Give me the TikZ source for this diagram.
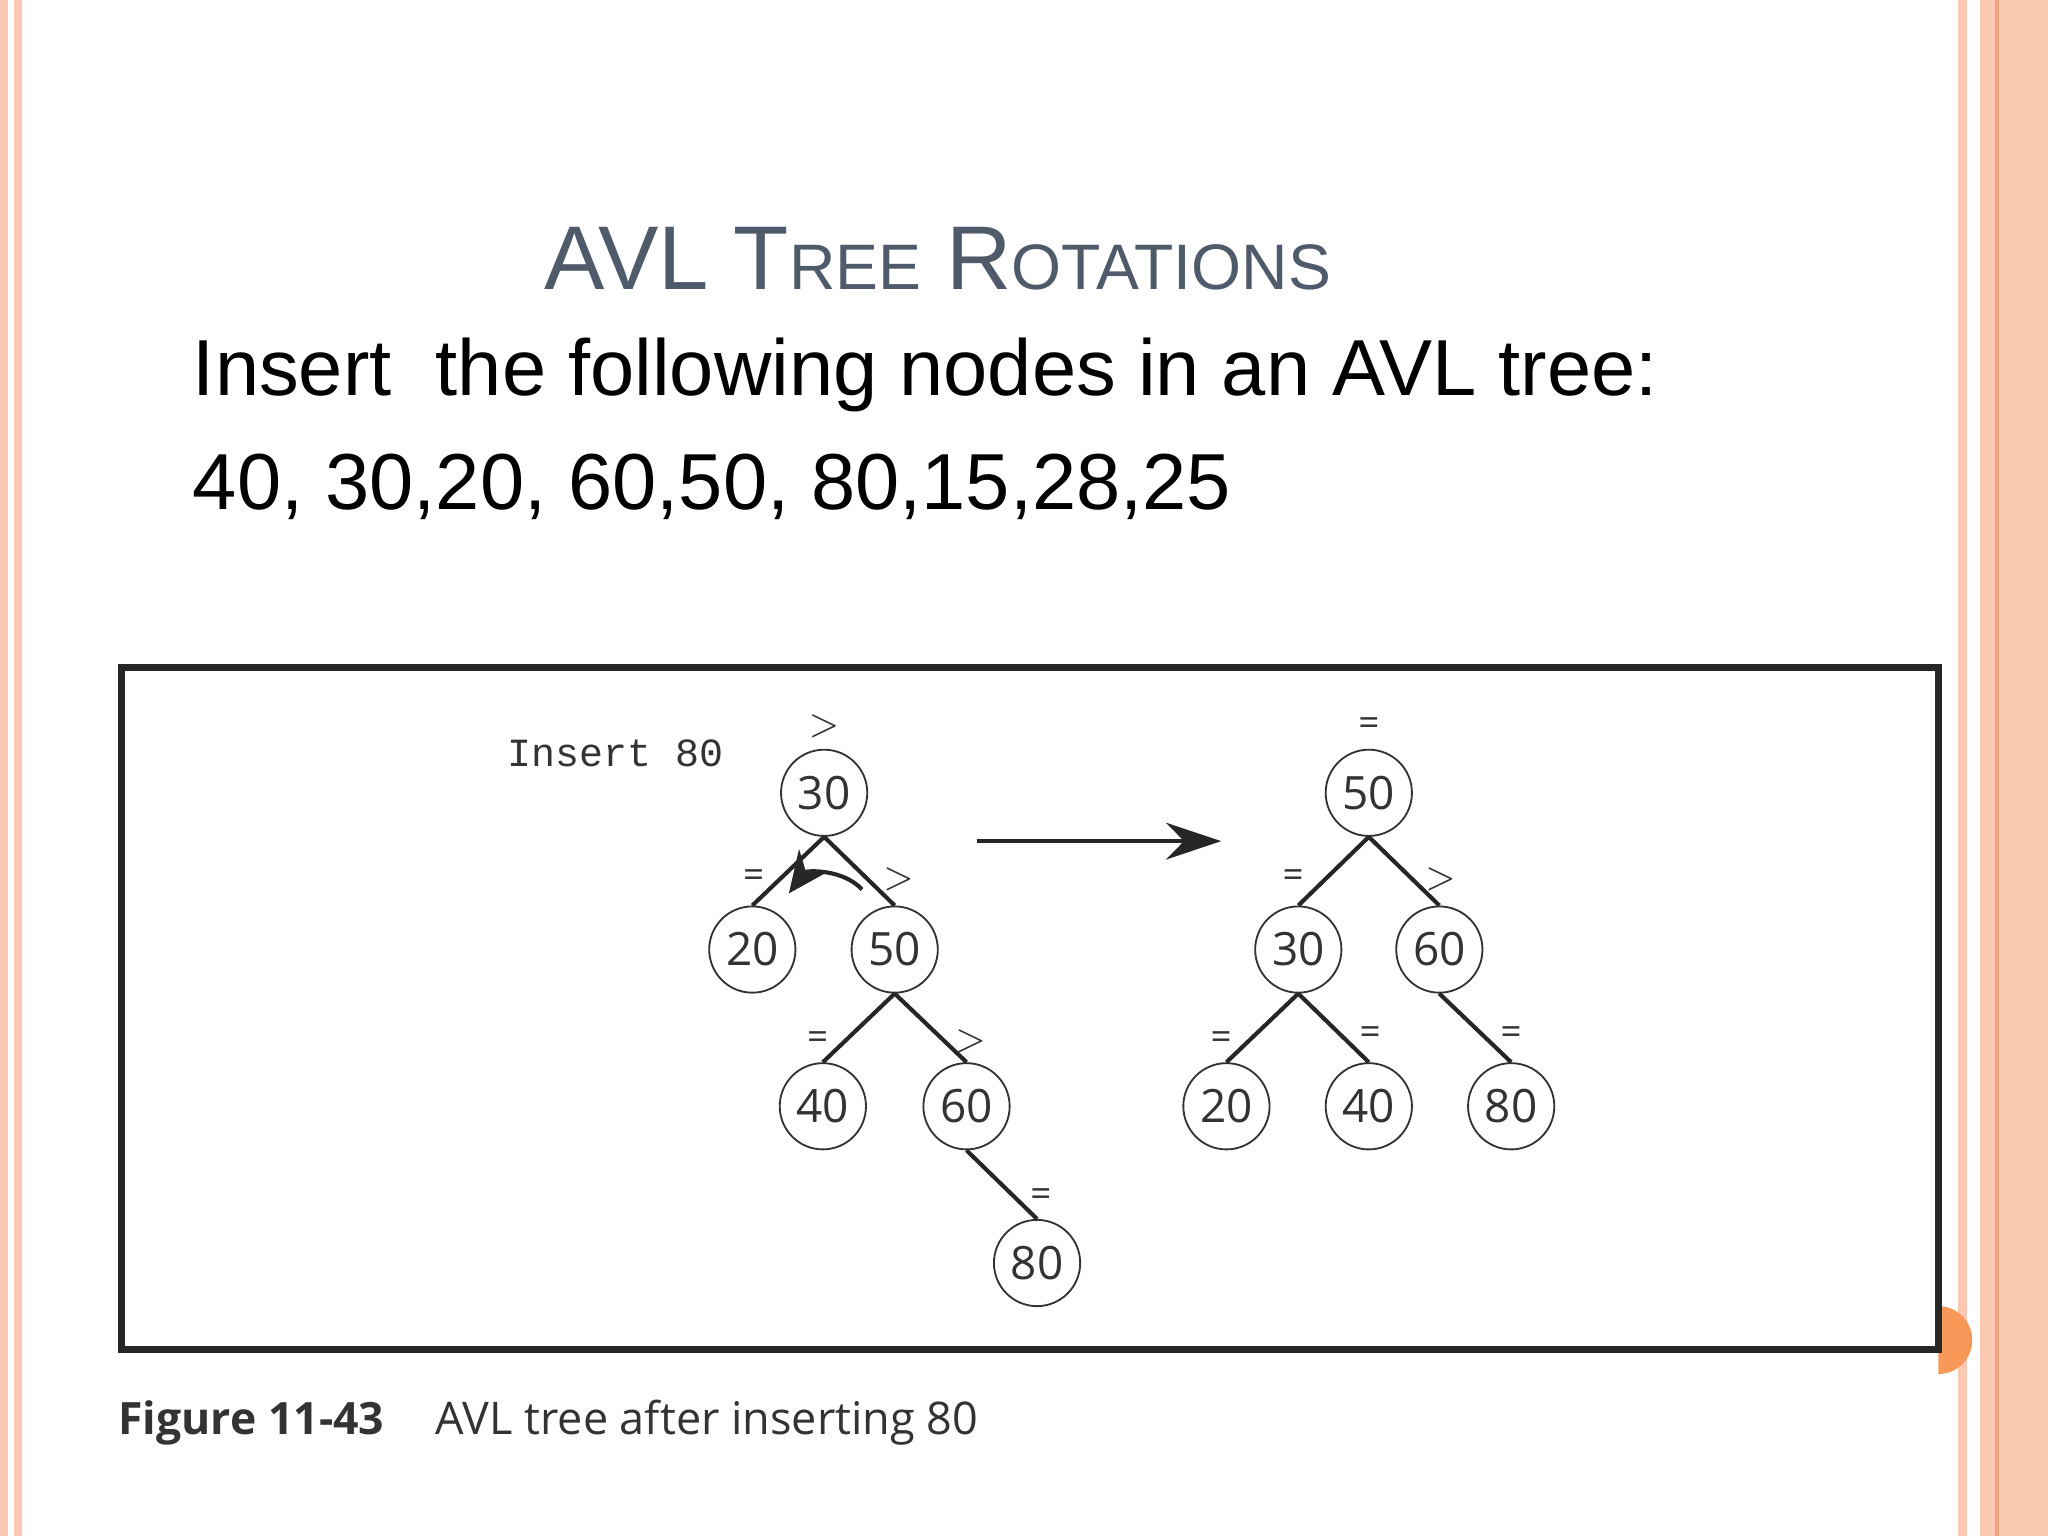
\documentclass[tikz,border=0pt]{standalone}
\usepackage{fontspec}
\setmainfont{Liberation Sans}
\newfontfamily\treefont{Open Sans}
\newfontfamily\monofont{Liberation Mono}
\usetikzlibrary{positioning,arrows.meta}
\definecolor{salmon}{HTML}{FBC8B2}
\definecolor{salmonline}{HTML}{F5A27E}
\definecolor{titlegrey}{HTML}{4F5A6A}
\definecolor{inkgrey}{HTML}{333333}
\tikzset{
	key/.style={draw=inkgrey, circle, minimum size=0.66cm, inner sep=0pt, fill=white,
		font=\treefont\fontsize{10}{12}\selectfont, text=inkgrey},
	bal/.style={font=\treefont\fontsize{8}{9}\selectfont, text=inkgrey, inner sep=0pt},
	link/.style={draw=black!85, line width=0.9pt}
}
\begin{document}
\begin{tikzpicture}[x=0.01cm, y=-0.01cm]
	\useasboundingbox (0,0) rectangle (1568,1176);
	% slide border
	\fill[salmon] (0,0) rectangle (6,1176);
	\fill[salmon] (11,0) rectangle (17,1176);
	\fill[salmon] (1499,0) rectangle (1506,1176);
	\fill[salmon] (1516,0) rectangle (1568,1176);
	\draw[salmonline, line width=0.8pt] (1529,0) -- (1529,1176);
	% title and text
	\node[anchor=base, text=titlegrey] (title) at (718,222)
		{\fontsize{19.7}{24}\selectfont AVL T{\fontsize{14}{18}\selectfont REE} R{\fontsize{14}{18}\selectfont OTATIONS}};
	\node[anchor=base west, inner sep=0pt] (line1) at (147,303)
		{\fontsize{17.3}{20}\selectfont Insert\ \ the following nodes in an AVL tree:};
	\node[anchor=base west, inner sep=0pt] (line2) at (147,390)
		{\fontsize{17.3}{20}\selectfont 40, 30,20, 60,50, 80,15,28,25};
	% figure frame
	\begin{scope}
		\clip (1484,900) rectangle (1560,1100);
		\fill[salmonline!70!orange] (1484,1026) circle[radius=26];
	\end{scope}
	\draw[black!85, line width=1.6pt] (93,511) rectangle (1484,1033);
	\node[anchor=base west, inner sep=0pt, font=\monofont\fontsize{8.7}{10}\selectfont, text=inkgrey] (ins) at (388,587) {Insert 80};
	% tree before
	\node[key] (a30) at (631,607) {30};
	\node[key] (a20) at (576,727) {20};
	\node[key] (a50) at (685,727) {50};
	\node[key] (a40) at (630,847) {40};
	\node[key] (a60) at (740,847) {60};
	\node[key] (a80) at (794,967) {80};
	\draw[link] (a30.south) -- (a20.north);
	\draw[link] (a30.south) -- (a50.north);
	\draw[link] (a50.south) -- (a40.north);
	\draw[link] (a50.south) -- (a60.north);
	\draw[link] (a60.south) -- (a80.north);
	\node[bal] (b30) at (631,556) {$>$};
	\node[bal] (b20) at (577,673) {=};
	\node[bal] (b50) at (688,673) {$>$};
	\node[bal] (b40) at (626,797) {=};
	\node[bal] (b60) at (743,797) {$>$};
	\node[bal] (b80) at (797,917) {=};
	\coordinate (rotfrom) at (660,681);
	\coordinate (rotto) at (604,684);
	\draw[link, -{Stealth[length=9pt,width=8pt]}] (rotfrom) to[bend right=50] (rotto);
	% rotation arrow
	\coordinate (go) at (748,644);
	\coordinate (stop) at (935,644);
	\draw[link, -{Stealth[length=12pt,width=8pt]}] (go) -- (stop);
	% tree after
	\node[key] (c50) at (1048,607) {50};
	\node[key] (c30) at (994,727) {30};
	\node[key] (c60) at (1102,727) {60};
	\node[key] (c20) at (939,847) {20};
	\node[key] (c40) at (1048,847) {40};
	\node[key] (c80) at (1157,847) {80};
	\draw[link] (c50.south) -- (c30.north);
	\draw[link] (c50.south) -- (c60.north);
	\draw[link] (c30.south) -- (c20.north);
	\draw[link] (c30.south) -- (c40.north);
	\draw[link] (c60.south) -- (c80.north);
	\node[bal] (d50) at (1048,556) {=};
	\node[bal] (d30) at (990,673) {=};
	\node[bal] (d60) at (1103,673) {$>$};
	\node[bal] (d20) at (935,797) {=};
	\node[bal] (d40) at (1049,793) {=};
	\node[bal] (d80) at (1157,793) {=};
	% caption
	\node[anchor=base west, inner sep=0pt, font=\treefont\fontsize{9.7}{12}\selectfont, text=inkgrey] (fig) at (90,1098) {\textbf{Figure 11-43}};
	\node[anchor=base west, inner sep=0pt, font=\treefont\fontsize{9.8}{12}\selectfont, text=inkgrey] (cap) at (333,1098) {AVL tree after inserting 80};
\end{tikzpicture}
\end{document}
